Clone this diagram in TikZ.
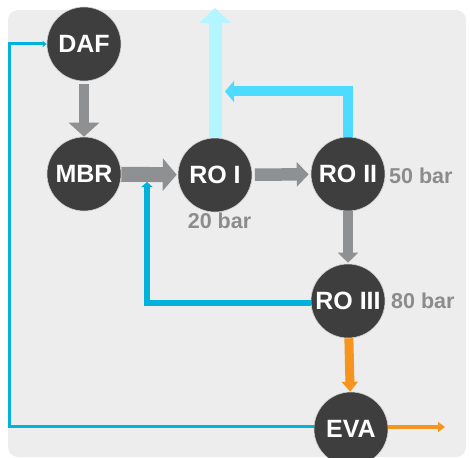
\documentclass[tikz,border=0pt]{standalone}
\usepackage{fontspec}
\setmainfont{Liberation Sans}
\usetikzlibrary{arrows.meta,calc}

\definecolor{panel}{RGB}{237,237,237}
\definecolor{unit}{RGB}{62,62,62}
\definecolor{flowgray}{RGB}{142,144,146}
\definecolor{permlight}{RGB}{180,246,255}
\definecolor{permcyan}{RGB}{77,219,255}
\definecolor{recblue}{RGB}{0,178,220}
\definecolor{brine}{RGB}{247,148,29}
\definecolor{barlabel}{RGB}{140,140,140}

\tikzset{
  unitnode/.style={circle, fill=unit, draw=white!75!unit, line width=0.6pt,
    inner sep=0pt, minimum size=74pt, text=white,
    font=\bfseries\fontsize{25}{30}\selectfont},
  barnode/.style={inner sep=0pt, text=barlabel,
    font=\bfseries\fontsize{21.5}{26}\selectfont},
  mainflow/.style={draw=flowgray, line width=#1},
  permflow/.style={draw=permlight, line width=13pt,
    -{Triangle[width=31pt,length=15pt]}},
  permreturn/.style={draw=permcyan, line width=10pt,
    -{Triangle[width=21pt,length=9pt]}},
  recycle/.style={draw=recblue, line width=6pt,
    -{Triangle[width=11pt,length=5pt]}},
  backline/.style={draw=recblue, line width=3pt,
    -{Triangle[width=6pt,length=4pt]}},
  concflow/.style={draw=brine, line width=#1},
}

\begin{document}
\begin{tikzpicture}[x=1pt,y=-1pt]
  \useasboundingbox (0,0) rectangle (470,457);
  \fill[panel, rounded corners=10pt] (8,10) rectangle (466,457);

  % treatment units
  \node[unitnode] (daf)   at (84,44)   {DAF};
  \node[unitnode] (mbr)   at (84,174)  {MBR};
  \node[unitnode] (roi)   at (215,175) {RO I};
  \node[unitnode] (roii)  at (348,174) {RO II};
  \node[unitnode] (roiii) at (348,301) {RO III};
  \node[unitnode] (eva)   at (351,429) {EVA};

  % operating pressures
  \node[barnode] (p20) at (219.5,221) {20 bar};
  \node[barnode, anchor=west] (p50) at (389,176) {50 bar};
  \node[barnode, anchor=west] (p80) at (391,301) {80 bar};

  % free ends of the open flows
  \coordinate (permout)  at (215,8);
  \coordinate (permback) at (225,91.5);
  \coordinate (recin)    at (147,182);
  \coordinate (tlcorner) at (9.5,44);
  \coordinate (brineout) at (445,427);

  % main train
  \draw[mainflow=10.5pt, -{Triangle[width=30pt,length=14pt]}, shorten <=3pt]
    (daf) -- (mbr);
  \draw[mainflow=15pt, -{Triangle[width=32pt,length=14pt]}, shorten >=1pt]
    (mbr) -- (roi);
  \draw[mainflow=12.5pt, -{Triangle[width=24pt,length=12pt]}, shorten <=2.5pt, shorten >=2pt]
    (roi) -- (roii);
  \draw[mainflow=10pt, -{Triangle[width=20pt,length=10pt]}, shorten >=1pt]
    (roii) -- (roiii);

  % permeate
  \draw[permflow] (roi.north) -- (permout);
  \draw[permreturn] (roii.north) |- (permback);

  % recycles
  \draw[recycle] ($(roiii.west)+(0,2)$) -| (recin);
  \draw[backline] ($(eva.west)+(0,-2.5)$) -| (tlcorner) -- (daf.west);

  % concentrate
  \draw[concflow=9pt, -{Triangle[width=16pt,length=10pt]}] (roiii) -- (eva);
  \draw[concflow=4pt, -{Triangle[width=10pt,length=7pt]}] (eva.east |- brineout) -- (brineout);
\end{tikzpicture}
\end{document}
